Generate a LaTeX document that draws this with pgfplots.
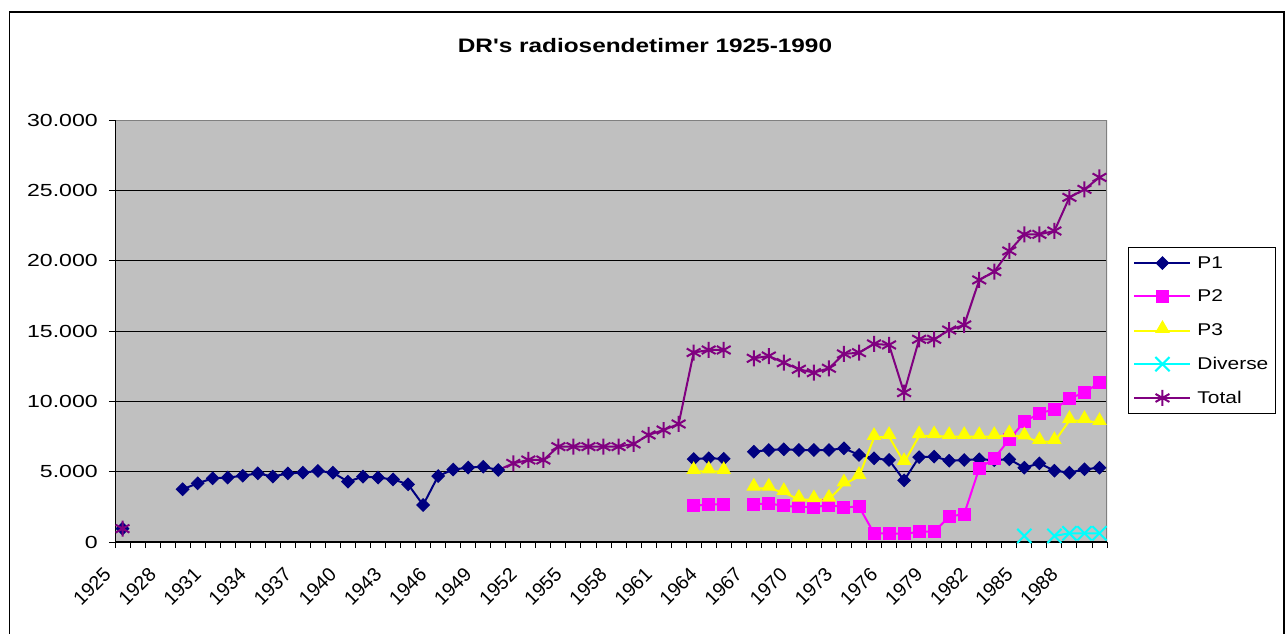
\documentclass[border=0pt]{standalone}
\usepackage{pgfplots}
\pgfplotsset{compat=1.18}
\usepackage{fontspec}
\setmainfont{Liberation Sans}
\definecolor{cP1}{HTML}{000080}
\definecolor{cP2}{HTML}{FF00FF}
\definecolor{cP3}{HTML}{FFFF00}
\definecolor{cDiv}{HTML}{00FFFF}
\definecolor{cTot}{HTML}{800080}
\definecolor{plotbg}{HTML}{C0C0C0}
\definecolor{frame}{HTML}{808080}
\newcommand{\sx}[1]{\scalebox{1.23}[1]{#1}}
\begin{document}
\begin{tikzpicture}[x=1pt,y=1pt]
\useasboundingbox (0,0) rectangle (1288,633);
\draw[line width=1.3pt, black] (9.5,-30) rectangle (1284,621);
\node[font=\bfseries\fontsize{19.5}{23}\selectfont, xscale=1.25] at (645,587) {DR\textquotesingle s radiosendetimer 1925-1990};
\begin{axis}[
  at={(115pt,91pt)}, anchor=south west,
  width=992pt, height=422pt, scale only axis,
  xmin=-0.5, xmax=65.5, ymin=0, ymax=30000,
  scaled y ticks=false,
  unbounded coords=jump,
  axis line style={draw=none},
  axis background/.style={fill=plotbg},
  ymajorgrids, grid style={black, line width=0.9pt},
  tick align=outside, major tick length=6pt, minor tick length=6pt,
  tick style={black, line width=0.9pt},
  xtick pos=bottom, ytick pos=left,
  xtick={0,3,...,63},
  xticklabels={1925,1928,1931,1934,1937,1940,1943,1946,1949,1952,1955,1958,1961,1964,1967,1970,1973,1976,1979,1982,1985,1988},
  minor xtick={-0.5,0.5,...,65.5},
  every major x tick/.append style={draw=none},
  xticklabel style={xshift=-20pt, yshift=-18pt, rotate=45, anchor=north east, font=\fontsize{19.5}{22}\selectfont, inner sep=0pt},
  ytick={0,5000,...,30000},
  yticklabels={0,5.000,10.000,15.000,20.000,25.000,30.000},
  yticklabel style={font=\fontsize{17.5}{20}\selectfont, xscale=1.32, xshift=-5pt},
  legend style={at={(1.0212,0.699)}, anchor=north west, draw=black, line width=0.9pt, fill=white,
    font=\fontsize{17}{20}\selectfont, row sep=16pt, inner xsep=5pt, inner ysep=7pt,
    /tikz/every odd column/.append style={column sep=4pt}},
  legend cell align=left,
  legend image code/.code={\draw[mark repeat=2,mark phase=2] plot coordinates {(0pt,0pt)(28pt,0pt)(56pt,0pt)};},
]
\draw[frame, line width=1.8pt] (rel axis cs:0,1) -- (rel axis cs:1,1) -- (rel axis cs:1,0);
\draw[black, line width=1.3pt] (rel axis cs:0,1) -- (rel axis cs:0,0) -- (rel axis cs:1,0);
\addplot[color=cTot, line width=2pt, mark=none, forget plot] coordinates {(25,5120)(26,5590)};
\addplot[color=cP1, line width=2pt, mark=square*, mark size=4.4pt, mark options={solid, rotate=45, line width=1pt, fill=cP1}] coordinates {
(0,950)(1,nan)(2,nan)(3,nan)(4,3750)(5,4170)(6,4530)(7,4580)(8,4710)(9,4880)(10,4650)(11,4880)(12,4930)(13,5050)(14,4930)
(15,4290)(16,4650)(17,4580)(18,4450)(19,4100)(20,2630)(21,4690)(22,5150)(23,5290)(24,5350)(25,5120)
(26,nan)(37,nan)
(38,5900)(39,5950)(40,5920)(41,nan)(42,6420)(43,6540)(44,6590)(45,6540)(46,6540)(47,6540)(48,6660)(49,6190)(50,5950)(51,5830)
(52,4380)(53,6030)(54,6070)(55,5780)(56,5830)(57,5880)(58,5820)(59,5880)(60,5280)(61,5590)(62,5070)(63,4930)(64,5170)(65,5280)};
\addlegendentry{\sx{P1}}
\addplot[color=cP2, line width=2pt, mark=square*, mark size=6pt, mark options={solid, line width=1pt, fill=cP2}] coordinates {
(38,2560)(39,2680)(40,2680)(41,nan)(42,2680)(43,2750)(44,2560)(45,2510)(46,2470)(47,2630)(48,2470)(49,2510)(50,620)(51,620)
(52,570)(53,730)(54,730)(55,1800)(56,1990)(57,5240)(58,5950)(59,7300)(60,8550)(61,9150)(62,9430)(63,10210)(64,10620)(65,11330)};
\addlegendentry{\sx{P2}}
\addplot[color=cP3, line width=2pt, mark=triangle*, mark size=7.5pt, mark options={solid, line width=1pt, fill=cP3, yshift=2pt}] coordinates {
(38,5000)(39,5030)(40,5000)(41,nan)(42,3820)(43,3820)(44,3510)(45,3030)(46,2990)(47,3030)(48,4120)(49,4650)(50,7420)(51,7490)
(52,5640)(53,7540)(54,7540)(55,7490)(56,7490)(57,7490)(58,7490)(59,7610)(60,7460)(61,7130)(62,7130)(63,8630)(64,8630)(65,8480)};
\addlegendentry{\sx{P3}}
\addplot[color=cDiv, line width=2pt, mark=x, mark size=10pt, mark options={solid, line width=2pt}] coordinates {
(60,430)(61,nan)(62,430)(63,620)(64,620)(65,620)};
\addlegendentry{\sx{Diverse}}
\addplot[color=cTot, line width=2pt, mark=asterisk, mark size=8pt, mark options={solid, line width=2pt}] coordinates {
(0,950)(1,nan)(25,nan)
(26,5590)(27,5830)(28,5830)(29,6780)(30,6780)(31,6780)(32,6780)(33,6780)(34,6970)(35,7610)(36,7960)(37,8390)
(38,13470)(39,13650)(40,13650)(41,nan)(42,13060)(43,13220)(44,12750)(45,12280)(46,12040)(47,12350)(48,13370)(49,13460)(50,14080)(51,14010)
(52,10620)(53,14410)(54,14410)(55,15070)(56,15430)(57,18630)(58,19220)(59,20690)(60,21870)(61,21870)(62,22110)(63,24500)(64,25070)(65,25920)};
\addlegendentry{\sx{Total}}
\end{axis}
\end{tikzpicture}
\end{document}
